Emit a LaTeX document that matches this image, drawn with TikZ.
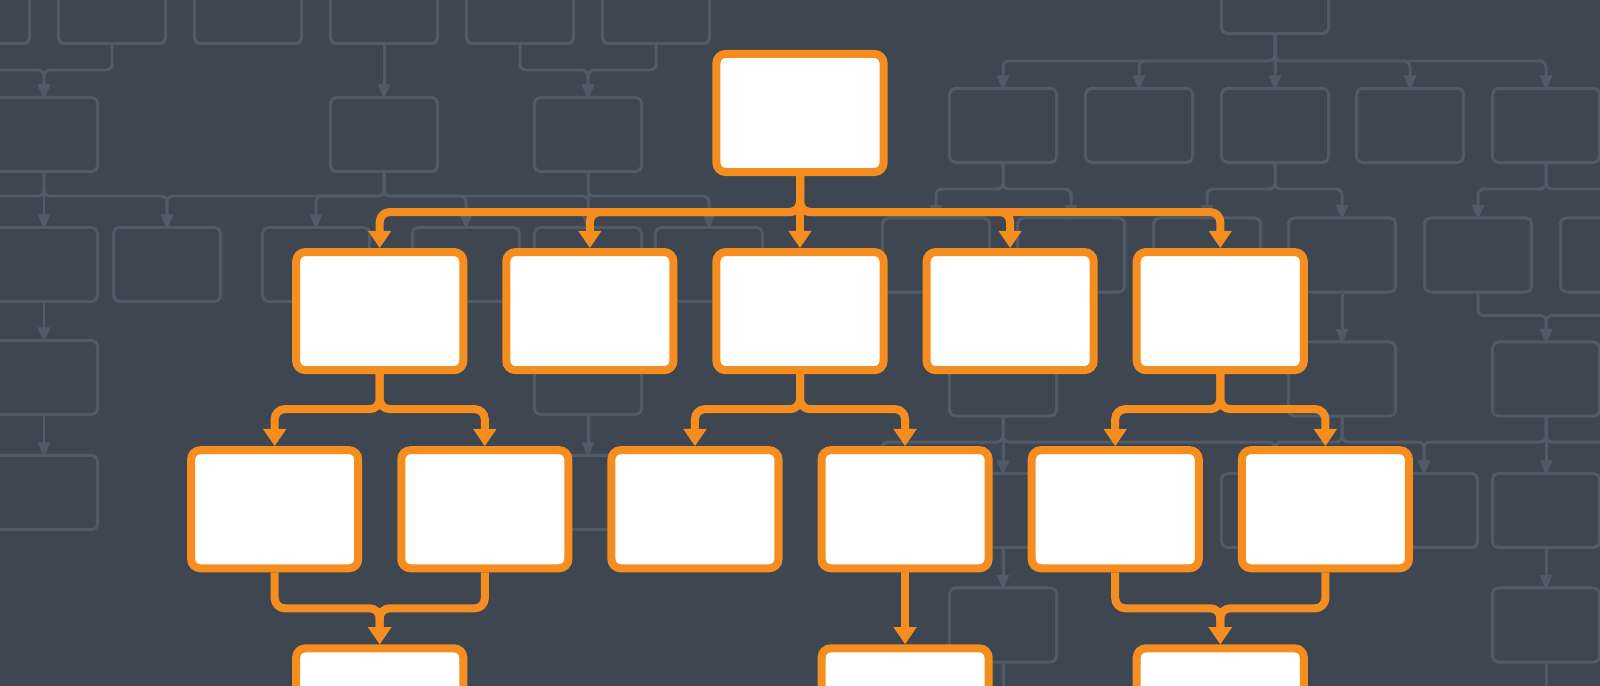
\documentclass[tikz,border=0pt]{standalone}
\usepackage{xcolor}
\usepackage{tikz}
\usetikzlibrary{arrows.meta,positioning,calc}

\definecolor{slate}{HTML}{3D4651}
\definecolor{ghostline}{HTML}{515B67}
\definecolor{chartorange}{HTML}{F68E1F}

\begin{document}
\begin{tikzpicture}[x=0.01cm, y=-0.01cm, node distance=0.72cm and 0.35cm,
    card/.style={rectangle, draw=chartorange, fill=white, line width=2.28pt, rounded corners=2.6pt, minimum width=1.67cm, minimum height=1.18cm, inner sep=0pt},
    flow/.style={draw=chartorange, line width=2.28pt, rounded corners=2.85pt, -{Triangle[width=6.3pt,length=4.9pt]}},
    ghost/.style={rectangle, draw=ghostline, line width=0.85pt, rounded corners=1.6pt, minimum width=1.07cm, minimum height=0.74cm, inner sep=0pt},
    ghostflow/.style={draw=ghostline, line width=0.85pt, rounded corners=1.7pt, -{Triangle[width=3.4pt,length=4.3pt]}, shorten >=-1pt}]

    \useasboundingbox (0,0) rectangle (1600,686);
    \fill [slate] (0,0) rectangle (1600,686);
    \clip (0,0) rectangle (1600,686);

    % faint chart behind, left part
    \foreach \n/\gx in {0/-24, 1/112, 2/248, 3/384, 4/520, 5/656}
        \node (la\n) [ghost] at (\gx,6.5) {};
    \node (lb1) [ghost] at (44,134.5) {};
    \node (lb2) [ghost] at (384,134.5) {};
    \node (lb3) [ghost] at (588,134.5) {};
    \coordinate (lc0) at (-92,227);
    \foreach \n/\gx in {1/44, 2/167, 3/316, 4/466, 5/588, 6/709}
        \node (lc\n) [ghost] at (\gx,264.5) {};
    \node (ld1) [ghost] at (44,377.5) {};
    \node (ld2) [ghost] at (588,377.5) {};
    \node (le1) [ghost] at (44,492.5) {};
    \node (le2) [ghost] at (588,492.5) {};

    \draw [ghostflow] (la0.south) -- ++(0,25) -| (lb1.north);
    \draw [ghostflow] (la1.south) -- ++(0,25) -| (lb1.north);
    \draw [ghostflow] (la3) -- (lb2);
    \draw [ghostflow] (la4.south) -- ++(0,25) -| (lb3.north);
    \draw [ghostflow] (la5.south) -- ++(0,25) -| (lb3.north);
    \draw [ghostflow] (lb1.south) -- ++(0,23) -| (lc0);
    \draw [ghostflow] (lb1) -- (lc1);
    \draw [ghostflow] (lb1.south) -- ++(0,23) -| (lc2.north);
    \draw [ghostflow] (lb2.south) -- ++(0,23) -| (lc2.north);
    \draw [ghostflow] (lb2.south) -- ++(0,23) -| (lc3.north);
    \draw [ghostflow] (lb2.south) -- ++(0,23) -| (lc4.north);
    \draw [ghostflow] (lb2.south) -- ++(0,23) -| (lc5.north);
    \draw [ghostflow] (lb3) -- (lc5);
    \draw [ghostflow] (lb3.south) -- ++(0,23) -| (lc6.north);
    \draw [ghostflow] (lc1) -- (ld1);
    \draw [ghostflow] (lc5) -- (ld2);
    \draw [ghostflow] (ld1) -- (le1);
    \draw [ghostflow] (ld2) -- (le2);

    % faint chart behind, right part
    \node (ra0) [ghost] at (1275,-3.5) {};
    \foreach \n/\gx in {1/1003, 2/1139, 3/1275, 4/1410, 5/1546}
        \node (rb\n) [ghost] at (\gx,125.5) {};
    \foreach \n/\gx in {1/936, 2/1071, 3/1207, 4/1342, 5/1478, 6/1614}
        \node (rc\n) [ghost] at (\gx,255) {};
    \node (rd1) [ghost] at (1003,379) {};
    \node (rd2) [ghost] at (1342,379) {};
    \node (rd3) [ghost] at (1546,379) {};
    \coordinate (re0) at (882,472);
    \node (re1) [ghost] at (1003,510.5) {};
    \node (re2) [ghost] at (1275,510.5) {};
    \node (re3) [ghost] at (1424,510.5) {};
    \node (re4) [ghost] at (1546,510.5) {};
    \coordinate (re5) at (1682,472);
    \node (rf1) [ghost] at (1003,625) {};
    \node (rf2) [ghost] at (1546,625) {};
    \coordinate (rg1) at (1003,700);
    \coordinate (rg2) at (1546,700);

    \foreach \n in {1,2,4,5}
        \draw [ghostflow] (ra0.south) -- ++(0,26) -| (rb\n.north);
    \draw [ghostflow] (ra0) -- (rb3);
    \draw [ghostflow] (rb1.south) -- ++(0,25) -| (rc1.north);
    \draw [ghostflow] (rb1.south) -- ++(0,25) -| (rc2.north);
    \draw [ghostflow] (rb3.south) -- ++(0,25) -| (rc3.north);
    \draw [ghostflow] (rb3.south) -- ++(0,25) -| (rc4.north);
    \draw [ghostflow] (rb5.south) -- ++(0,25) -| (rc5.north);
    \draw [ghostflow] (rb5.south) -- ++(0,25) -| (rc6.north);
    \draw [ghostflow] (rc1.south) -- ++(0,22) -| (rd1.north);
    \draw [ghostflow] (rc2.south) -- ++(0,22) -| (rd1.north);
    \draw [ghostflow] (rc4) -- (rd2);
    \draw [ghostflow] (rc5.south) -- ++(0,22) -| (rd3.north);
    \draw [ghostflow] (rc6.south) -- ++(0,22) -| (rd3.north);
    \draw [ghostflow] (rd1.south) -- ++(0,24.5) -| (re0);
    \draw [ghostflow] (rd1) -- (re1);
    \draw [ghostflow] (rd1.south) -- ++(0,24.5) -| (re2.north);
    \draw [ghostflow] (rd2.south) -- ++(0,24.5) -| (re2.north);
    \draw [ghostflow] (rd2.south) -- ++(0,24.5) -| (re3.north);
    \draw [ghostflow] (rd3.south) -- ++(0,24.5) -| (re3.north);
    \draw [ghostflow] (rd3) -- (re4);
    \draw [ghostflow] (rd3.south) -- ++(0,24.5) -| (re5);
    \draw [ghostflow] (re1) -- (rf1);
    \draw [ghostflow] (re4) -- (rf2);
    \draw [ghostflow, -] (rf1.south) -- (rg1);
    \draw [ghostflow, -] (rf2.south) -- (rg2);

    % orange tree in front
    \node (head) [card] at (800,113) {};
    \node (dept3) [card, below=of head] {};
    \node (dept2) [card, left=of dept3] {};
    \node (dept1) [card, left=of dept2] {};
    \node (dept4) [card, right=of dept3] {};
    \node (dept5) [card, right=of dept4] {};
    \node (team1) [card, below=of dept1, xshift=-1.05cm] {};
    \node (team2) [card, right=of team1] {};
    \node (team3) [card, right=of team2] {};
    \node (team4) [card, right=of team3] {};
    \node (team5) [card, right=of team4] {};
    \node (team6) [card, right=of team5] {};
    \node (unit1) [card, below=of team1, xshift=1.05cm] {};
    \node (unit2) [card, below=of team4] {};
    \node (unit3) [card, below=of team5, xshift=1.05cm] {};

    \draw [flow] (head.south) -- ++(0,36) -| (dept1.north);
    \draw [flow] (head.south) -- ++(0,36) -| (dept2.north);
    \draw [flow] (head) -- (dept3);
    \draw [flow] (head.south) -- ++(0,36) -| (dept4.north);
    \draw [flow] (head.south) -- ++(0,36) -| (dept5.north);
    \draw [flow] (dept1.south) -- ++(0,35) -| (team1.north);
    \draw [flow] (dept1.south) -- ++(0,35) -| (team2.north);
    \draw [flow] (dept3.south) -- ++(0,35) -| (team3.north);
    \draw [flow] (dept3.south) -- ++(0,35) -| (team4.north);
    \draw [flow] (dept5.south) -- ++(0,35) -| (team5.north);
    \draw [flow] (dept5.south) -- ++(0,35) -| (team6.north);
    \draw [flow] (team1.south) -- ++(0,36) -| (unit1.north);
    \draw [flow] (team2.south) -- ++(0,36) -| (unit1.north);
    \draw [flow] (team4) -- (unit2);
    \draw [flow] (team5.south) -- ++(0,36) -| (unit3.north);
    \draw [flow] (team6.south) -- ++(0,36) -| (unit3.north);
\end{tikzpicture}
\end{document}
